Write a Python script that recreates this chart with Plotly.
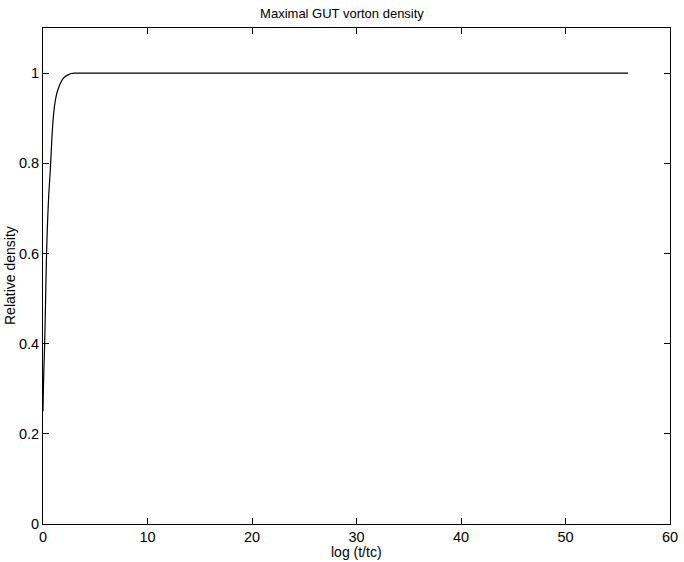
import plotly.graph_objects as go

x_vals = [0, 0.03, 0.08, 0.16, 0.25, 0.32, 0.42, 0.55, 0.7, 0.85, 1.0, 1.15, 1.3, 1.5, 1.7, 1.9, 2.1, 2.4, 2.7, 3.0, 3.5, 56]
y_vals = [0.25, 0.29, 0.34, 0.40, 0.50, 0.58, 0.66, 0.73, 0.785, 0.855, 0.905, 0.935, 0.953, 0.968, 0.979, 0.987, 0.992, 0.996, 0.999, 1.0, 1.0, 1.0]

x_ticks = [0, 10, 20, 30, 40, 50, 60]
y_ticks = [0, 0.2, 0.4, 0.6, 0.8, 1]
y_tick_text = ["0", "0.2", "0.4", "0.6", "0.8", "1"]

font = "Liberation Sans, Arial, Helvetica, sans-serif"

fig = go.Figure()
fig.add_trace(go.Scatter(x=x_vals, y=y_vals, mode="lines",
                         line=dict(color="black", width=1.2, shape="spline", smoothing=0.8),
                         showlegend=False))

axis_common = dict(showline=True, linecolor="black", linewidth=1, mirror="allticks",
                   ticks="inside", ticklen=6, tickcolor="black", tickwidth=1,
                   showgrid=False, zeroline=False, automargin=False,
                   tickfont=dict(family=font, size=14.5, color="black"))

fig.update_layout(
    width=684, height=562,
    margin=dict(l=43, r=14, t=28, b=38),
    paper_bgcolor="white", plot_bgcolor="white",
    title=dict(text="Maximal GUT vorton density", x=0.5, xanchor="center",
               y=1 - 13 / 562, yanchor="middle",
               font=dict(family=font, size=13, color="black")),
    xaxis=dict(range=[0, 60], tickvals=x_ticks, **axis_common),
    yaxis=dict(range=[0, 1.1], tickvals=y_ticks, ticktext=y_tick_text, **axis_common),
    annotations=[
        dict(text="log (t/tc)", xref="paper", yref="paper", x=0.5, y=0,
             xanchor="center", yanchor="middle", yshift=-28, showarrow=False,
             font=dict(family=font, size=14, color="black")),
        dict(text="Relative density", xref="paper", yref="paper", x=0, y=0.5,
             xanchor="center", yanchor="middle", xshift=-33, textangle=-90, showarrow=False,
             font=dict(family=font, size=14, color="black")),
    ],
)

fig.write_html("out.html", config={"displayModeBar": False},
               post_script="document.body.style.margin='0px';")
